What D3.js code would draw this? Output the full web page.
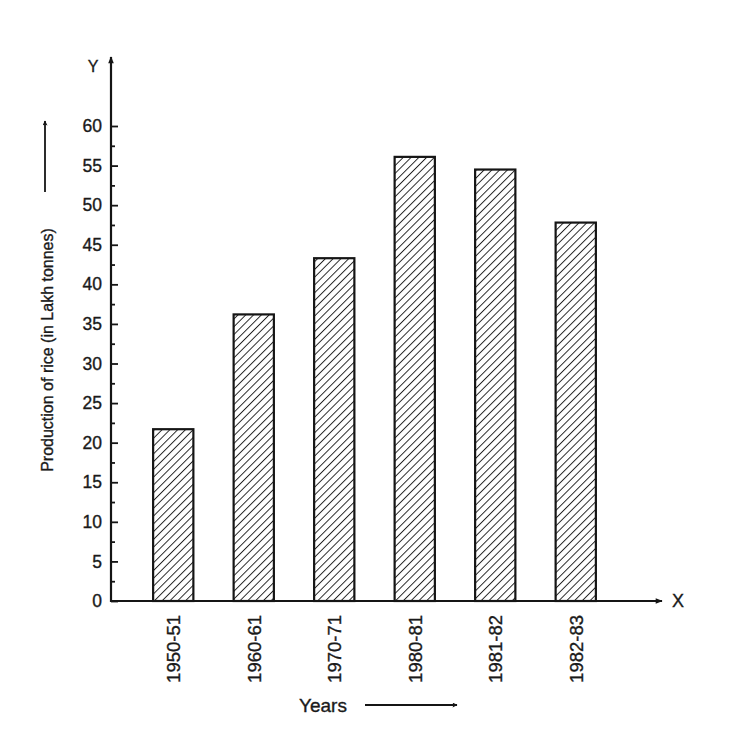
<!DOCTYPE html>
<html>
<head>
<meta charset="utf-8">
<script src="https://cdn.jsdelivr.net/npm/d3@7"></script>
<style>
  html, body { margin: 0; padding: 0; background: #ffffff; }
  svg { display: block; }
  text { font-family: "Liberation Sans", Arial, Helvetica, sans-serif; fill: #1a1a1a; stroke: #1a1a1a; stroke-width: 0.35px; }
</style>
</head>
<body>
<svg id="chart" width="736" height="745"></svg>
<script>
// ---- data ----
const categories = ["1950-51", "1960-61", "1970-71", "1980-81", "1981-82", "1982-83"];
const production = [21.7, 36.2, 43.3, 56.1, 54.5, 47.8];
const yTicks = [0, 5, 10, 15, 20, 25, 30, 35, 40, 45, 50, 55, 60];
const yMinorTicks = [2.5, 7.5, 12.5, 17.5, 22.5, 27.5, 32.5, 37.5, 42.5, 47.5, 52.5, 57.5];
const yTitle = "Production of rice (in Lakh tonnes)";
const xTitle = "Years";

const svg = d3.select("#chart");
const ink = "#151515";

const axisX = 111;
const y = d3.scaleLinear().domain([0, 60]).range([601, 126]);
const x = d3.scaleBand().domain(categories).range([133, 616]).paddingInner(0.5).paddingOuter(0.25);

// hatch pattern
const defs = svg.append("defs");
const pat = defs.append("pattern")
  .attr("id", "hatch")
  .attr("patternUnits", "userSpaceOnUse")
  .attr("width", 5.5).attr("height", 5.5)
  .attr("patternTransform", "rotate(45)");
pat.append("rect").attr("width", 5.5).attr("height", 5.5).attr("fill", "#ffffff");
pat.append("line").attr("x1", 0).attr("y1", 0).attr("x2", 0).attr("y2", 5.5)
  .attr("stroke", "#222222").attr("stroke-width", 1.9);

const arrow = defs.append("marker")
  .attr("id", "arrow").attr("viewBox", "0 0 10 10")
  .attr("refX", 9).attr("refY", 5)
  .attr("markerWidth", 7).attr("markerHeight", 5)
  .attr("markerUnits", "userSpaceOnUse")
  .attr("orient", "auto");
arrow.append("path").attr("d", "M0,0 L10,5 L0,10 L2,5 Z").attr("fill", ink);

const arrowBig = defs.append("marker")
  .attr("id", "arrowBig").attr("viewBox", "0 0 10 10")
  .attr("refX", 9).attr("refY", 5)
  .attr("markerWidth", 14).attr("markerHeight", 7)
  .attr("markerUnits", "userSpaceOnUse")
  .attr("orient", "auto");
arrowBig.append("path").attr("d", "M0,1 L10,5 L0,9 Z").attr("fill", ink);

// bars
svg.append("g").selectAll("rect").data(categories).join("rect")
  .attr("x", d => x(d))
  .attr("y", (d, i) => y(production[i]))
  .attr("width", x.bandwidth())
  .attr("height", (d, i) => y(0) - y(production[i]))
  .attr("fill", "url(#hatch)")
  .attr("stroke", ink)
  .attr("stroke-width", 2.2);

// y axis: major ticks
const gMajor = svg.append("g").attr("transform", `translate(${axisX},0)`)
  .call(d3.axisRight(y).tickValues(yTicks).tickSize(7).tickFormat(""));
const gMinor = svg.append("g").attr("transform", `translate(${axisX},0)`)
  .call(d3.axisRight(y).tickValues(yMinorTicks).tickSize(4).tickFormat(""));
const gLabels = svg.append("g").attr("transform", `translate(${axisX},0)`)
  .call(d3.axisLeft(y).tickValues(yTicks).tickSize(0).tickPadding(9));
[gMajor, gMinor, gLabels].forEach(g => {
  g.select(".domain").remove();
  g.selectAll(".tick line").attr("stroke", ink).attr("stroke-width", 1.8);
});
gLabels.selectAll(".tick text").attr("font-size", 17.5).attr("fill", "#1a1a1a")
  .attr("font-family", "'Liberation Sans', Arial, sans-serif");

// y axis line with arrow
svg.append("line")
  .attr("x1", axisX).attr("y1", y(0) + 1)
  .attr("x2", axisX).attr("y2", 57)
  .attr("stroke", ink).attr("stroke-width", 2.2)
  .attr("marker-end", "url(#arrowBig)");

// x axis line with arrow
svg.append("line")
  .attr("x1", axisX - 1).attr("y1", y(0))
  .attr("x2", 662).attr("y2", y(0))
  .attr("stroke", ink).attr("stroke-width", 2.2)
  .attr("marker-end", "url(#arrowBig)");

// x category labels (via axis)
const gx = svg.append("g").attr("transform", `translate(0,${y(0)})`)
  .call(d3.axisBottom(x).tickSize(0).tickPadding(0));
gx.select(".domain").remove();
gx.selectAll(".tick text")
  .attr("font-size", 18.5)
  .attr("font-family", "'Liberation Sans', Arial, sans-serif")
  .attr("fill", "#1a1a1a")
  .attr("text-anchor", "end")
  .attr("transform", "translate(7,14) rotate(-90)")
  .attr("dy", "0");

// axis letters
svg.append("text").attr("x", 93).attr("y", 72).attr("text-anchor", "middle")
  .attr("font-size", 16).text("Y");
svg.append("text").attr("x", 678).attr("y", 607).attr("text-anchor", "middle")
  .attr("font-size", 18).text("X");

// y title and arrow
svg.append("text")
  .attr("transform", "translate(53,350) rotate(-90)")
  .attr("text-anchor", "middle")
  .attr("font-size", 16)
  .text(yTitle);
svg.append("line")
  .attr("x1", 45).attr("y1", 192).attr("x2", 45).attr("y2", 121)
  .attr("stroke", ink).attr("stroke-width", 1.8)
  .attr("marker-end", "url(#arrow)");

// x title and arrow
svg.append("text").attr("x", 323).attr("y", 712).attr("text-anchor", "middle")
  .attr("font-size", 19).text(xTitle);
svg.append("line")
  .attr("x1", 365).attr("y1", 705).attr("x2", 457).attr("y2", 705)
  .attr("stroke", ink).attr("stroke-width", 1.8)
  .attr("marker-end", "url(#arrow)");
</script>
</body>
</html>
